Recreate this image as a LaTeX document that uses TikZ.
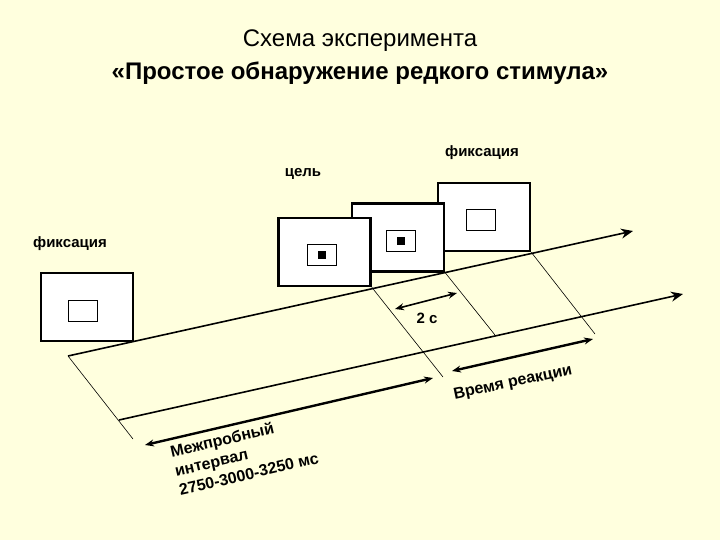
\documentclass[tikz,border=0pt]{standalone}
\usepackage{fontspec}
\setmainfont{Liberation Sans}
\usetikzlibrary{positioning, calc, arrows.meta}
\definecolor{paleyellow}{RGB}{255,255,222}

\begin{document}
\begin{tikzpicture}[x=1pt, y=-1pt,
        screen/.style={rectangle, draw, fill=white, line width=2.5pt, minimum width=92pt, minimum height=68pt, inner sep=0pt},
        spot/.style={rectangle, draw, fill=white, line width=0.8pt, minimum width=29pt, minimum height=21pt, inner sep=0pt},
        dot/.style={rectangle, fill=black, minimum size=8pt, inner sep=0pt},
        lbl/.style={font=\bfseries\fontsize{15}{19.5}\selectfont},
        rlbl/.style={font=\bfseries\fontsize{16}{19.5}\selectfont},
        timeaxis/.style={-{Stealth[length=12pt, width=10pt, inset=4pt]}, line width=1.6pt},
        spanarrow/.style={{Stealth[length=9pt, width=7pt]}-{Stealth[length=9pt, width=7pt]}, line width=2.4pt},
        dropline/.style={line width=0.6pt},
    ]

    % ===== Background =====
    \fill[paleyellow] (0,0) rectangle (720,540);

    % ===== Title =====
    \node[font=\fontsize{24}{28}\selectfont] (TTL1) at (360,41) {Схема эксперимента};
    \node[font=\bfseries\fontsize{24}{28}\selectfont] (TTL2) at (360,73) {«Простое обнаружение редкого стимула»};

    % ===== Time axes =====
    \coordinate (A0) at (68,356);
    \coordinate (A1) at (633,231);
    \coordinate (B0) at (119,420);
    \coordinate (B1) at (683,294);
    \draw[timeaxis] (A0) -- (A1);
    \draw[timeaxis] (B0) -- (B1);

    % ===== Screens (later ones behind) =====
    \node[screen] (FIX2) at (484,217) {};
    \node[spot] (FIX2S) at (481,219.5) {};
    \node[screen] (TGT2) at (398,237.5) {};
    \node[spot] (TGT2S) at (401,240.5) {};
    \node[dot] at (TGT2S) {};
    \node[screen] (TGT1) at (324.5,252) {};
    \node[spot] (TGT1S) at (322,254.5) {};
    \node[dot] at (TGT1S) {};
    \node[screen] (FIX1) at (87,307) {};
    \node[spot] (FIX1S) at (82.5,311) {};

    \node[lbl] (LF1) at (70,244) {фиксация};
    \node[lbl] (LT) at (303,174) {цель};
    \node[lbl] (LF2) at (482,153) {фиксация};

    % ===== Drop lines =====
    \coordinate (E0) at (133,439);
    \coordinate (E1) at (443,377);
    \coordinate (E2) at (495,335);
    \coordinate (E3) at (595,334);
    \draw[dropline] (A0) -- (E0);
    \draw[dropline] (TGT1.south east) -- (E1);
    \draw[dropline] (TGT2.south east) -- (E2);
    \draw[dropline] (FIX2.south east) -- (E3);

    % ===== Intervals =====
    \coordinate (S1) at (395,309);
    \coordinate (S2) at (457,293);
    \draw[spanarrow, line width=1.6pt] (S1) -- (S2);
    \node[lbl] (TWO) at (427,318) {2 с};

    \coordinate (R1) at (452,371);
    \coordinate (R2) at (593,339);
    \draw[spanarrow] (R1) -- (R2);
    \node[rlbl, rotate=12] (RT) at (513,383) {Время реакции};

    \coordinate (I1) at (145,445);
    \coordinate (I2) at (433,378);
    \draw[spanarrow] (I1) -- (I2);
    \node[rlbl, rotate=13, anchor=north west, align=left] (ITI) at (165,443)
        {Межпробный\\интервал\\2750-3000-3250 мс};

\end{tikzpicture}
\end{document}
